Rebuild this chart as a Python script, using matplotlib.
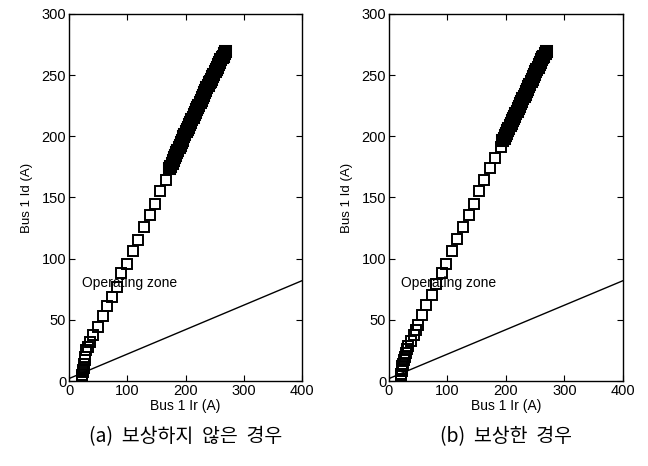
import matplotlib.pyplot as plt

plt.rcParams['font.family'] = ['Liberation Sans', 'DejaVu Sans']

# (a) without compensation: sparse part of the trajectory
ir_a_low = [22, 22, 23, 23, 24, 24, 25, 26, 27, 28, 30, 33, 36, 42, 50, 58, 66,
            73, 82, 90, 99, 110, 119, 128, 139, 148, 157, 167]
id_a_low = [0, 2, 3, 5, 7, 9, 11, 14, 17, 20, 25, 28, 32, 38, 44, 53, 61,
            69, 77, 88, 96, 106, 115, 126, 136, 145, 155, 164]
# (a) dense part
ir_a_band = [172, 174, 176, 178, 180, 182, 184, 186, 188, 190, 192, 194, 196,
             198, 200, 202, 204, 206, 208, 210, 212, 214, 216, 218, 220, 222,
             224, 226, 228, 230, 232, 234, 236, 238, 240, 242, 244, 246, 248,
             250, 252, 254, 256, 258, 260, 262, 264, 266, 268]
id_a_band = [174, 176, 178, 181, 183, 185, 187, 189, 191, 193, 195, 197, 200,
             202, 204, 206, 208, 210, 212, 214, 216, 218, 220, 222, 224, 226,
             228, 230, 232, 234, 236, 238, 240, 242, 244, 245, 247, 249, 251,
             253, 255, 257, 259, 261, 263, 265, 266, 268, 270]

# (b) with compensation
ir_b_low = [20, 20, 21, 21, 22, 22, 23, 24, 25, 27, 29, 31, 33, 38, 42, 47, 50,
            56, 64, 73, 81, 90, 97, 108, 117, 126, 137, 145, 154, 163, 172,
            182, 191]
id_b_low = [0, 2, 4, 6, 8, 10, 12, 14, 17, 20, 23, 26, 29, 33, 38, 42, 46,
            54, 62, 70, 79, 88, 96, 106, 116, 126, 136, 145, 155, 164, 174,
            182, 191]
ir_b_band = [194, 196, 198, 200, 202, 204, 206, 208, 210, 212, 214, 216, 218,
             220, 222, 224, 226, 228, 230, 232, 234, 236, 238, 240, 242, 244,
             246, 248, 250, 252, 254, 256, 258, 260, 262, 264, 266, 268]
id_b_band = [197, 199, 201, 203, 205, 207, 209, 211, 213, 215, 217, 219, 221,
             223, 225, 227, 229, 231, 233, 235, 237, 239, 241, 243, 245, 247,
             249, 251, 253, 255, 257, 259, 261, 263, 265, 266, 268, 270]

# operating zone boundary
ir_line = [0, 400]
id_line = [2, 82]

xticks = [0, 100, 200, 300, 400]
yticks = [0, 50, 100, 150, 200, 250, 300]
captions = ['(a)  보상하지  않은  경우', '(b)  보상한  경우']

fig = plt.figure(figsize=(6.48, 4.66), dpi=100)
ax_a = fig.add_axes([0.1065, 0.1824, 0.3596, 0.7876])
ax_b = fig.add_axes([0.6003, 0.1824, 0.3611, 0.7876])

panels = [
    (ax_a, ir_a_low, id_a_low, ir_a_band, id_a_band, 22),
    (ax_b, ir_b_low, id_b_low, ir_b_band, id_b_band, 20),
]

for i, (ax, ir, idd, ir_band, id_band, tx) in enumerate(panels):
    ax.plot(ir, idd, linestyle='none', marker='s', markersize=6.5,
            markerfacecolor='none', markeredgecolor='black',
            markeredgewidth=1.4)
    ax.plot(ir_band, id_band, linestyle='none', marker='s', markersize=7,
            markerfacecolor='none', markeredgecolor='black',
            markeredgewidth=2.2)
    ax.plot(ir_line, id_line, color='black', linewidth=1.0)
    ax.text(tx, 80, 'Operating zone', fontsize=10, va='center', ha='left')
    ax.set_xlim(0, 400)
    ax.set_ylim(0, 300)
    ax.set_xticks(xticks)
    ax.set_yticks(yticks)
    ax.tick_params(direction='in', top=True, right=True, length=4,
                   labelsize=10.5, pad=2)
    ax.set_xlabel('Bus 1 Ir (A)', fontsize=10, labelpad=1)
    ax.set_ylabel('Bus 1 Id (A)', fontsize=9.5, labelpad=6)
    for s in ax.spines.values():
        s.set_linewidth(1.0)
    pos = ax.get_position()
    fig.text(pos.x0 + pos.width / 2, 0.062, captions[i], ha='center',
             va='center', fontsize=14,
             family=['Noto Sans CJK KR', 'DejaVu Sans'])

fig.savefig('out.png', dpi=100)
